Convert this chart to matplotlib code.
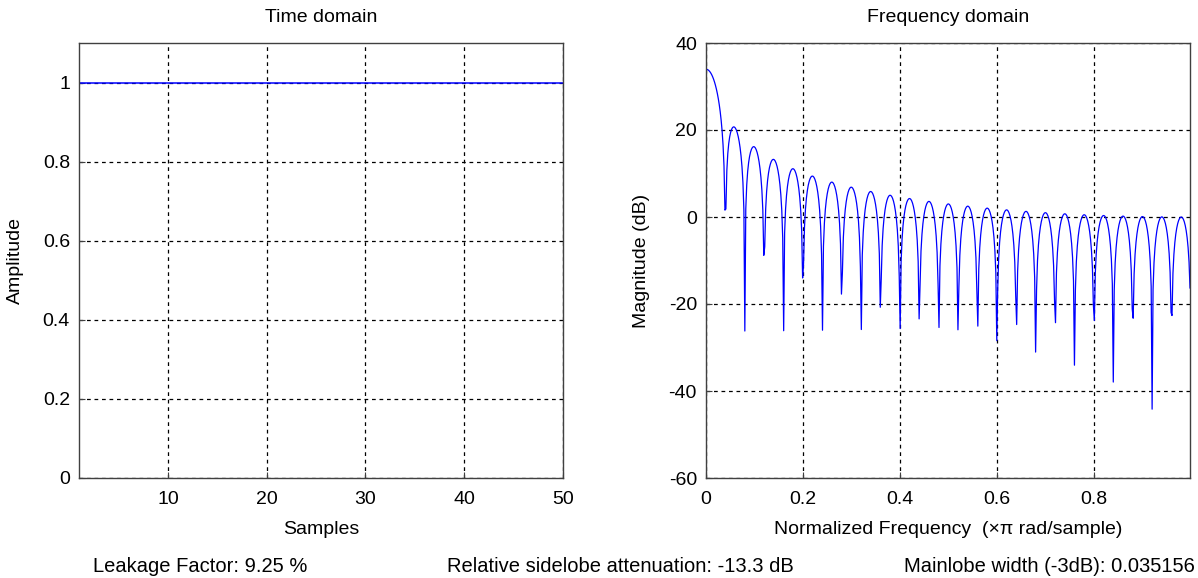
import numpy as np
import matplotlib
matplotlib.use("Agg")
import matplotlib.pyplot as plt

plt.rcParams["font.family"] = ["Liberation Sans", "DejaVu Sans"]
plt.rcParams["font.size"] = 14
plt.rcParams["axes.unicode_minus"] = False

# rectangular window, 50 samples
window = [1.0] * 50
n_freq = 512  # frequency points on [0, pi)

leakage = "Leakage Factor: 9.25 %"
sidelobe = "Relative sidelobe attenuation: -13.3 dB"
mainlobe = "Mainlobe width (-3dB): 0.035156"

samples = np.arange(1, len(window) + 1)
spec = np.fft.fft(window, 2 * n_freq)[:n_freq]
mag_db = 20 * np.log10(np.abs(spec))
freq = np.arange(n_freq) / n_freq

W, H = 1198, 578
fig = plt.figure(figsize=(W / 100, H / 100), dpi=100)
ax1 = fig.add_axes([79 / W, 100 / H, 484 / W, 435 / H])
ax2 = fig.add_axes([706 / W, 100 / H, 484 / W, 435 / H])

grid_kw = dict(color="black", linestyle=(0, (3.0, 3.0)), linewidth=0.9)

ax1.plot(samples, window, color="#0000ff", linewidth=1.1)
ax1.set_xlim(1, 50)
ax1.set_ylim(0, 1.1)
ax1.set_xticks([10, 20, 30, 40, 50])
ax1.set_yticks([0, 0.2, 0.4, 0.6, 0.8, 1])
ax1.set_yticklabels(["0", "0.2", "0.4", "0.6", "0.8", "1"])
ax1.set_title("Time domain", y=1 + 25 / 435, va="center", pad=0, fontsize=14)
ax1.set_xlabel("Samples")
ax1.set_ylabel("Amplitude")

ax2.plot(freq, mag_db, color="#0000ff", linewidth=0.9)
ax2.set_xlim(0, freq[-1])
ax2.set_ylim(-60, 40)
ax2.set_xticks([0, 0.2, 0.4, 0.6, 0.8])
ax2.set_xticklabels(["0", "0.2", "0.4", "0.6", "0.8"])
ax2.set_yticks([-60, -40, -20, 0, 20, 40])
ax2.set_title("Frequency domain", y=1 + 25 / 435, va="center", pad=0, fontsize=14)
ax2.set_xlabel("Normalized Frequency  (\u00d7\u03c0 rad/sample)")
ax2.set_ylabel("Magnitude (dB)")

for ax in (ax1, ax2):
    ax.grid(True, **grid_kw)
    ax.tick_params(axis="x", direction="in", length=4, color="#404040",
                   labelsize=14, pad=9)
    ax.tick_params(axis="y", direction="in", length=4, color="#404040",
                   labelsize=14, pad=6.5)
    for spine in ax.spines.values():
        spine.set_edgecolor("#404040")
        spine.set_linewidth(1.0)
    ax.xaxis.set_label_coords(0.5, -52 / 435)
    ax.xaxis.label.set_verticalalignment("center")
    ax.yaxis.set_label_coords(-64 / 484, 0.5)
    ax.yaxis.label.set_verticalalignment("center")

base = 1 - 572 / H
fig.text(93 / W, base, leakage, ha="left", va="baseline", fontsize=14.5)
fig.text(447 / W, base, sidelobe, ha="left", va="baseline", fontsize=14.5)
fig.text(1195 / W, base, mainlobe, ha="right", va="baseline", fontsize=14.5)

fig.savefig("out.png", dpi=100, facecolor="white")
